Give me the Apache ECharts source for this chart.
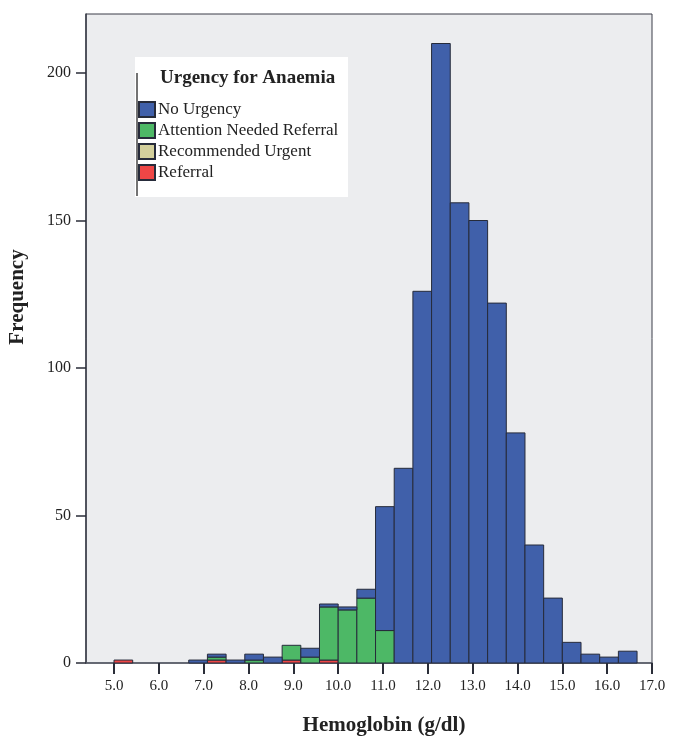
<!DOCTYPE html>
<html>
<head>
<meta charset="utf-8">
<script src="https://cdn.jsdelivr.net/npm/echarts@6/dist/echarts.min.js"></script>
<style>
  html, body { margin: 0; padding: 0; background: #fff; }
  #main { width: 674px; height: 738px; }
</style>
</head>
<body>
<div id="main"></div>
<script>
// histogram bins: width 5/12 g/dl starting at 5.0
var binStart = 5.0;
var binWidth = 5 / 12;
var xTicks = [5, 6, 7, 8, 9, 10, 11, 12, 13, 14, 15, 16, 17];
var yTicks = [0, 50, 100, 150, 200];

var seriesNames = ['No Urgency', 'Attention Needed Referral', 'Recommended Urgent', 'Referral'];
var seriesColors = ['#4060AA', '#4DB866', '#D3D09C', '#EE4646'];

var noUrgency   = [0, 0, 0, 0, 1, 1, 1, 2, 2, 0, 3, 1, 1, 3, 42, 66, 126, 210, 156, 150, 122, 78, 40, 22, 7, 3, 2, 4];
var attention   = [0, 0, 0, 0, 0, 1, 0, 1, 0, 5, 2, 18, 18, 22, 11, 0, 0, 0, 0, 0, 0, 0, 0, 0, 0, 0, 0, 0];
var recommended = [0, 0, 0, 0, 0, 0, 0, 0, 0, 0, 0, 0, 0, 0, 0, 0, 0, 0, 0, 0, 0, 0, 0, 0, 0, 0, 0, 0];
var referral    = [1, 0, 0, 0, 0, 1, 0, 0, 0, 1, 0, 1, 0, 0, 0, 0, 0, 0, 0, 0, 0, 0, 0, 0, 0, 0, 0, 0];

var chart = echarts.init(document.getElementById('main'));

var FONT = 'Liberation Serif';

// stack bottom-up: Referral, Recommended, Attention, No Urgency
var stackOrder = [referral, recommended, attention, noUrgency];
var stackNames = [seriesNames[3], seriesNames[2], seriesNames[1], seriesNames[0]];
var stackColors = [seriesColors[3], seriesColors[2], seriesColors[1], seriesColors[0]];

function renderBin(params, api) {
  var count = api.value(3);
  if (!count) return;
  var p0 = api.coord([api.value(0), api.value(2)]);
  var p1 = api.coord([api.value(1), api.value(2) + count]);
  return {
    type: 'rect',
    shape: { x: p0[0], y: p1[1], width: p1[0] - p0[0], height: p0[1] - p1[1] },
    style: { fill: stackColors[params.seriesIndex], stroke: '#262b3a', lineWidth: 1 }
  };
}

var base = noUrgency.map(function () { return 0; });
var series = [];
stackOrder.forEach(function (arr, si) {
  var data = arr.map(function (v, k) {
    var lo = binStart + k * binWidth;
    return [lo, lo + binWidth, base[k], v];
  });
  arr.forEach(function (v, k) { base[k] += v; });
  series.push({
    name: stackNames[si],
    type: 'custom',
    renderItem: renderBin,
    itemStyle: { color: stackColors[si], borderColor: '#262b3a', borderWidth: 1 },
    encode: { x: [0, 1], y: [2, 3] },
    data: data
  });
});

var option = {
  backgroundColor: '#ffffff',
  animation: false,
  textStyle: { fontFamily: FONT },
  grid: {
    left: 86, right: 22, top: 14, bottom: 75,
    show: true,
    backgroundColor: '#ECEDEF',
    borderColor: '#3a3d48',
    borderWidth: 1
  },
  legend: {
    data: seriesNames,
    orient: 'vertical',
    left: 138,
    top: 101,
    z: 60,
    padding: 0,
    itemWidth: 16,
    itemHeight: 15,
    itemGap: 4,
    icon: 'rect',
    textStyle: { fontFamily: FONT, fontSize: 17, color: '#222', padding: [0, 0, 0, -2] }
  },
  xAxis: {
    type: 'value',
    min: 4.375,
    max: 17,
    axisLine: { show: true, lineStyle: { color: '#555a66', width: 1.5 } },
    axisTick: { show: true, length: 11, customValues: xTicks, lineStyle: { color: '#2a2d38', width: 2 } },
    axisLabel: {
      customValues: xTicks,
      formatter: function (v) { return v.toFixed(1); },
      fontFamily: FONT, fontSize: 15, color: '#222', margin: 16
    },
    splitLine: { show: false }
  },
  yAxis: {
    type: 'value',
    min: 0,
    max: 220,
    axisLine: { show: true, lineStyle: { color: '#3a3d48', width: 1.5 } },
    axisTick: { show: true, length: 10, customValues: yTicks, lineStyle: { color: '#2a2d38', width: 1.5 } },
    axisLabel: {
      customValues: yTicks,
      fontFamily: FONT, fontSize: 16, color: '#222', margin: 15
    },
    splitLine: { show: false }
  },
  graphic: [
    {
      type: 'rect', z: 50,
      shape: { x: 135, y: 57, width: 213, height: 140 },
      style: { fill: '#ffffff' }
    },
    {
      type: 'line', z: 51,
      shape: { x1: 137, y1: 73, x2: 137, y2: 196 },
      style: { stroke: '#444', lineWidth: 1.5 }
    },
    {
      type: 'text', z: 52, x: 160, y: 78,
      style: { text: 'Urgency for Anaemia', font: 'bold 19px "Liberation Serif"', fill: '#222', verticalAlign: 'middle' }
    },
    {
      type: 'text', z: 52, x: 18, y: 297,
      rotation: Math.PI / 2,
      style: { text: 'Frequency', font: 'bold 21px "Liberation Serif"', fill: '#222', align: 'center', verticalAlign: 'middle' }
    },
    {
      type: 'text', z: 52, x: 384, y: 726,
      style: { text: 'Hemoglobin (g/dl)', font: 'bold 21px "Liberation Serif"', fill: '#222', align: 'center', verticalAlign: 'middle' }
    }
  ],
  series: series
};

chart.setOption(option);
</script>
</body>
</html>
